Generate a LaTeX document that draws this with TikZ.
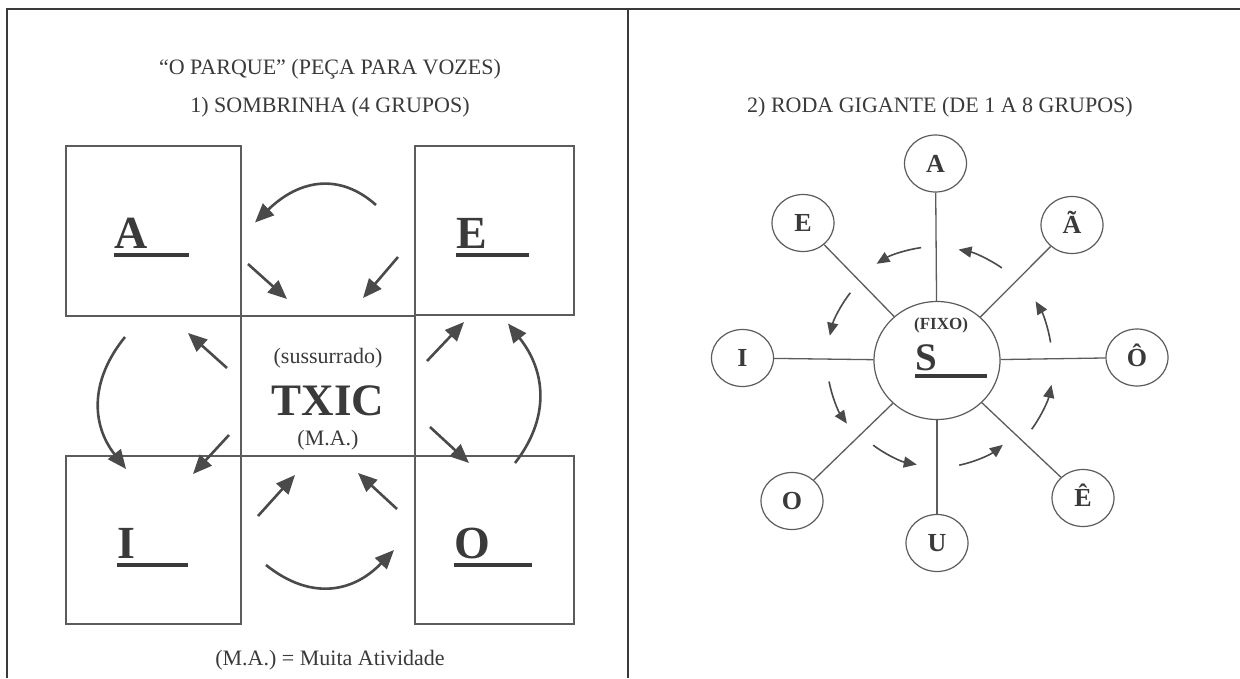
\documentclass[tikz,border=0pt]{standalone}
\usepackage{fontspec}
\setmainfont{Liberation Serif}
\usetikzlibrary{arrows.meta,shapes.geometric}
\definecolor{ink}{HTML}{3A3A3A}
\definecolor{rulegray}{HTML}{5C5C5C}
\definecolor{arr}{HTML}{4A4A4A}
\newcommand\fsz[1]{\fontsize{#1}{#1}\selectfont}
\begin{document}
\begin{tikzpicture}[x=1pt,y=-1pt,
  frame/.style={draw=ink,line width=1.8pt},
  cell/.style={draw=rulegray,line width=1.2pt},
  label/.style={text=ink,inner sep=0pt,font=\fsz{22}},
  bigletter/.style={text=ink,inner sep=0pt,anchor=base west,font=\fsz{46}\bfseries},
  bar/.style={fill=ink},
  bigarrow/.style={draw=arr,line width=2.6pt,-{Triangle[length=19pt,width=16pt]}},
  smallarrow/.style={draw=arr,line width=1.6pt,-{Triangle[length=13pt,width=11pt]}},
  group/.style={ellipse,draw=rulegray,line width=1.2pt,minimum width=62pt,minimum height=57pt,
    inner sep=0pt,text=ink,font=\fsz{26}\bfseries,text height=17.5pt,text depth=0pt},
  spoke/.style={draw=rulegray,line width=1.3pt}]
\useasboundingbox (0,0) rectangle (1240,678);
\fill[white] (0,0) rectangle (1240,678);

% page frame and column divider
\draw[frame] (7,678) -- (7,9) -- (1240,9);
\draw[frame] (628,9) -- (628,678);

% ---------- 1) Sombrinha ----------
\node[label,anchor=base] (t1) at (330,74) {“O PARQUE” (PEÇA PARA VOZES)};
\node[label,anchor=base] (t2) at (330,112) {1) SOMBRINHA (4 GRUPOS)};

\draw[cell] (66,146) rectangle (241,316);
\draw[cell] (415,146) rectangle (574,315);
\draw[cell] (66,456) rectangle (241,624);
\draw[cell] (415,456) rectangle (574,624);
\draw[cell] (241,316) rectangle (415,456);

\node[bigletter] (gA) at (114,248) {A};
\fill[bar] (114,253) rectangle (189,257);
\node[bigletter] (gE) at (456,248) {E};
\fill[bar] (456,253) rectangle (529,257);
\node[bigletter] (gI) at (117,558) {I};
\fill[bar] (117,563) rectangle (188,567);
\node[bigletter] (gO) at (454,558) {O};
\fill[bar] (454,563) rectangle (532,567);

\node[label,anchor=base] (whisper) at (328,363) {(sussurrado)};
\node[text=ink,inner sep=0pt,anchor=base,font=\fsz{45}\bfseries] (txic) at (328,415) {TXIC};
\node[label,anchor=base] (ma) at (328,445) {(M.A.)};

% circulation arrows
\draw[bigarrow] (376,205) .. controls (340.3,173) and (300,178.8) .. (255,222.5);
\draw[bigarrow] (248,264) -- (287,299);
\draw[bigarrow] (398,257) -- (363,298);
\draw[bigarrow] (125,337) .. controls (90.3,379.7) and (90.7,423.7) .. (126,469);
\draw[bigarrow] (227,368) -- (188,333);
\draw[bigarrow] (229,435) -- (193,474);
\draw[bigarrow] (427,361) -- (464,322);
\draw[bigarrow] (430,427) -- (469,463);
\draw[bigarrow] (515,463) .. controls (549.3,419) and (547,372.5) .. (508,323.5);
\draw[bigarrow] (258,516) -- (295,475);
\draw[bigarrow] (397,509) -- (358,473);
\draw[bigarrow] (266,565) .. controls (308.7,599.3) and (351.3,594.3) .. (394,550);

\node[label,anchor=base] (legend) at (330,665) {(M.A.) = Muita Atividade};

% ---------- 2) Roda gigante ----------
\node[label,anchor=base] (t3) at (940,112) {2) RODA GIGANTE (DE 1 A 8 GRUPOS)};

\node[ellipse,draw=rulegray,line width=1.2pt,minimum width=126pt,minimum height=118pt] (S) at (937,360.5) {};
\node[text=ink,inner sep=0pt,anchor=base,font=\fsz{17}\bfseries] (fixo) at (941,329) {(FIXO)};
\node[text=ink,inner sep=0pt,anchor=base west,font=\fsz{39}\bfseries] (sS) at (915,370) {S};
\fill[bar] (915,374) rectangle (987,378);

\node[group] (nA) at (935.5,163.5) {A};
\node[group] (nAt) at (1072,225) {Ã};
\node[group] (nOc) at (1137,357.5) {Ô};
\node[group] (nEc) at (1083,498) {Ê};
\node[group] (nU) at (937,543) {U};
\node[group] (nO) at (792,501) {O};
\node[group] (nI) at (742.5,358) {I};
\node[group] (nE) at (803,223) {E};

\foreach \n in {nA,nAt,nOc,nEc,nU,nO,nI,nE}
  \draw[spoke] (S) -- (\n);

% rotation arrows around the hub
\begin{scope}[shift={(937,360.5)},y=1pt]
  \draw[smallarrow] (9:115) arc[start angle=9,end angle=31,radius=115];
  \draw[smallarrow] (55:113) arc[start angle=55,end angle=79,radius=113];
  \draw[smallarrow] (98:114) arc[start angle=98,end angle=122,radius=114];
  \draw[smallarrow] (142:110) arc[start angle=142,end angle=167,radius=110];
  \draw[smallarrow] (191:110) arc[start angle=191,end angle=215,radius=110];
  \draw[smallarrow] (233:106) arc[start angle=233,end angle=259,radius=106];
  \draw[smallarrow] (282:107) arc[start angle=282,end angle=308,radius=107];
  \draw[smallarrow] (324:117) arc[start angle=324,end angle=348,radius=117];
\end{scope}
\end{tikzpicture}
\end{document}
